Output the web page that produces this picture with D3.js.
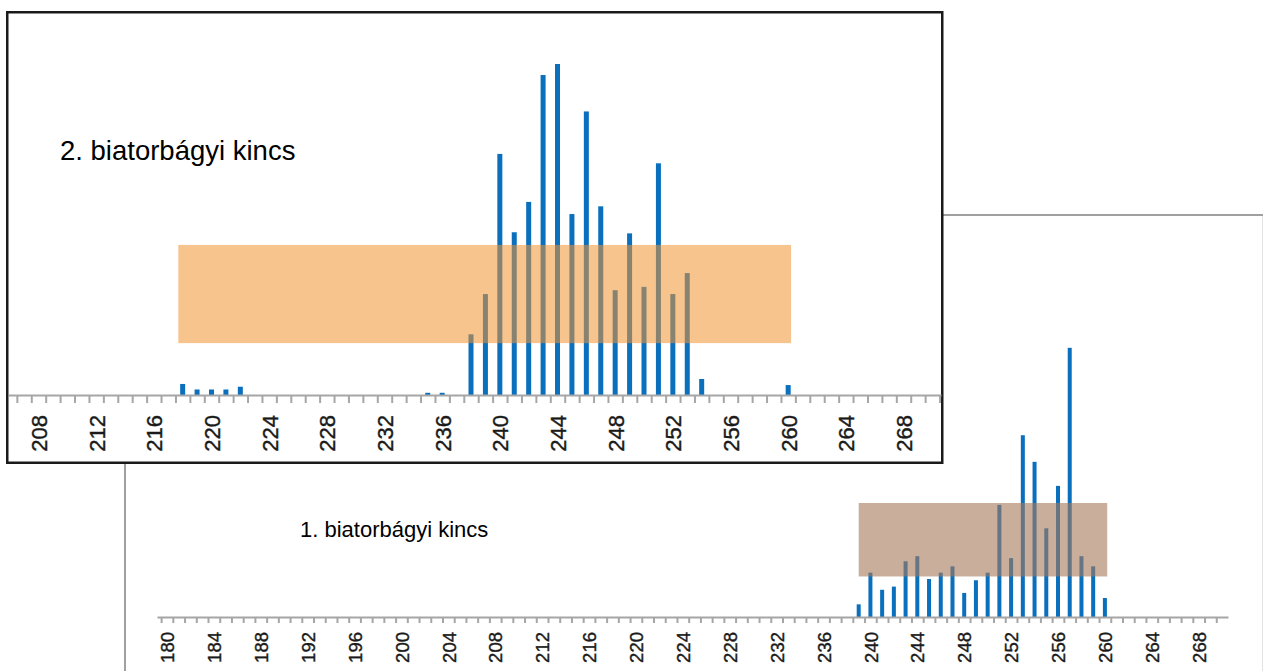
<!DOCTYPE html>
<html>
<head>
<meta charset="utf-8">
<script src="https://cdn.jsdelivr.net/npm/d3@7"></script>
<style>
  body { margin: 0; background: #fff; }
  svg { display: block; }
  text { font-family: "Liberation Sans", Arial, sans-serif; }
</style>
</head>
<body>
<div class="graph"></div>
<script>
// ---- data: 2. biatorbágyi kincs (top chart) ----
var topTitle = "2. biatorbágyi kincs";
var topCats = [218, 219, 220, 221, 222, 235, 236, 238, 239, 240, 241, 242, 243, 244, 245, 246, 247, 248, 249, 250, 251, 252, 253, 254, 260];
var topVals = [2, 1, 1, 1, 1.5, 0.4, 0.4, 11, 18.3, 43.7, 29.5, 35, 58, 60, 32.8, 51.4, 34.2, 19, 29.3, 19.6, 42, 18.3, 22.1, 2.9, 1.8];
var topTickLabels = [208, 212, 216, 220, 224, 228, 232, 236, 240, 244, 248, 252, 256, 260, 264, 268];
var topBandX = [217.7, 260.2];
var topBandY = [9.4, 27.2];

// ---- data: 1. biatorbágyi kincs (bottom chart) ----
var botTitle = "1. biatorbágyi kincs";
var botCats = [239, 240, 241, 242, 243, 244, 245, 246, 247, 248, 249, 250, 251, 252, 253, 254, 255, 256, 257, 258, 259, 260];
var botVals = [2, 7, 4.3, 4.8, 8.8, 9.6, 6, 7, 8, 3.8, 5.8, 7, 17.7, 9.3, 28.7, 24.5, 14, 20.7, 42.5, 9.6, 8, 3];
var botTickLabels = [180, 184, 188, 192, 196, 200, 204, 208, 212, 216, 220, 224, 228, 232, 236, 240, 244, 248, 252, 256, 260, 264, 268];
var botBandX = [239, 260.2];
var botBandY = [6.4, 18];

var width = 1263, height = 671;
var svg = d3.select(".graph").append("svg")
    .attr("width", width)
    .attr("height", height);

// draws one histogram panel
function drawPanel(g, o) {
    var x = d3.scaleLinear().domain(o.xDomain).range(o.xRange);
    var y = d3.scaleLinear().domain(o.yDomain).range([o.base, o.yTop]);

    // bars
    g.selectAll("rect.bar")
        .data(o.cats)
        .enter()
        .append("rect")
        .attr("class", "bar")
        .attr("x", function (d) { return x(d) - o.barW / 2; })
        .attr("y", function (d, i) { return y(o.vals[i]); })
        .attr("width", o.barW)
        .attr("height", function (d, i) { return o.base - y(o.vals[i]); })
        .attr("fill", "#0a6fbd");

    // translucent band over the bars
    g.append("rect")
        .attr("x", x(o.bandX[0]))
        .attr("y", y(o.bandY[1]))
        .attr("width", x(o.bandX[1]) - x(o.bandX[0]))
        .attr("height", y(o.bandY[0]) - y(o.bandY[1]))
        .attr("fill", o.bandColor)
        .attr("fill-opacity", o.bandOpacity);

    // minor ticks between categories
    var minor = d3.range(Math.ceil(o.xDomain[0] - 0.5) + 0.5, o.xDomain[1], 1);
    var minorAxis = d3.axisBottom(x).tickValues(minor).tickFormat("").tickSize(o.tickLen).tickSizeOuter(0);
    var mg = g.append("g")
        .attr("transform", "translate(0," + o.base + ")")
        .call(minorAxis);
    mg.select(".domain").attr("stroke", "#a6a6a6").attr("stroke-width", 2);
    mg.selectAll(".tick line").attr("stroke", "#a6a6a6").attr("stroke-width", 2);

    // labels every 4
    var labAxis = d3.axisBottom(x).tickValues(o.labels).tickSize(0).tickSizeOuter(0);
    var lg = g.append("g")
        .attr("transform", "translate(0," + o.base + ")")
        .call(labAxis);
    lg.select(".domain").remove();
    lg.selectAll("text")
        .attr("transform", "rotate(-90)")
        .attr("x", -o.labOff)
        .attr("y", 0)
        .attr("dy", "0.36em")
        .attr("text-anchor", "end")
        .attr("fill", "#1a1a1a")
        .attr("stroke", "#1a1a1a")
        .attr("stroke-width", 0.4)
        .style("font-family", "'Liberation Sans', Arial, sans-serif")
        .style("font-size", o.labSize + "px");

    g.append("text")
        .attr("x", o.titleX)
        .attr("y", o.titleY)
        .attr("fill", "#000")
        .style("font-size", o.titleSize + "px")
        .text(o.title);
}

// ===== bottom chart frame =====
svg.append("line").attr("x1", 125).attr("y1", 215).attr("x2", 1263).attr("y2", 215)
    .attr("stroke", "#a0a0a0").attr("stroke-width", 2);
svg.append("line").attr("x1", 125).attr("y1", 215).attr("x2", 125).attr("y2", 671)
    .attr("stroke", "#a0a0a0").attr("stroke-width", 2);
svg.append("line").attr("x1", 1262.5).attr("y1", 216).attr("x2", 1262.5).attr("y2", 671)
    .attr("stroke", "#e2e2e2").attr("stroke-width", 1);

var gBot = svg.append("g");
drawPanel(gBot, {
    cats: botCats, vals: botVals, labels: botTickLabels,
    xDomain: [179.15, 270.5], xRange: [157, 1228],
    yDomain: [0, 45], base: 617, yTop: 332,
    barW: 4, tickLen: 6, labOff: 15, labSize: 18.5,
    bandX: botBandX, bandY: botBandY, bandColor: "#a5785a", bandOpacity: 0.6,
    title: botTitle, titleX: 300, titleY: 537, titleSize: 22
});

// ===== top chart box =====
svg.append("rect")
    .attr("x", 7.25).attr("y", 12.25)
    .attr("width", 935).attr("height", 450.5)
    .attr("fill", "#fff")
    .attr("stroke", "#1a1a1a")
    .attr("stroke-width", 2.5);

var gTop = svg.append("g");
drawPanel(gTop, {
    cats: topCats, vals: topVals, labels: topTickLabels,
    xDomain: [205.92, 270.6], xRange: [8.5, 941],
    yDomain: [0, 60], base: 395, yTop: 64,
    barW: 5, tickLen: 8, labOff: 20, labSize: 22,
    bandX: topBandX, bandY: topBandY, bandColor: "#f09432", bandOpacity: 0.55,
    title: topTitle, titleX: 60, titleY: 160, titleSize: 27.5
});
</script>
</body>
</html>
